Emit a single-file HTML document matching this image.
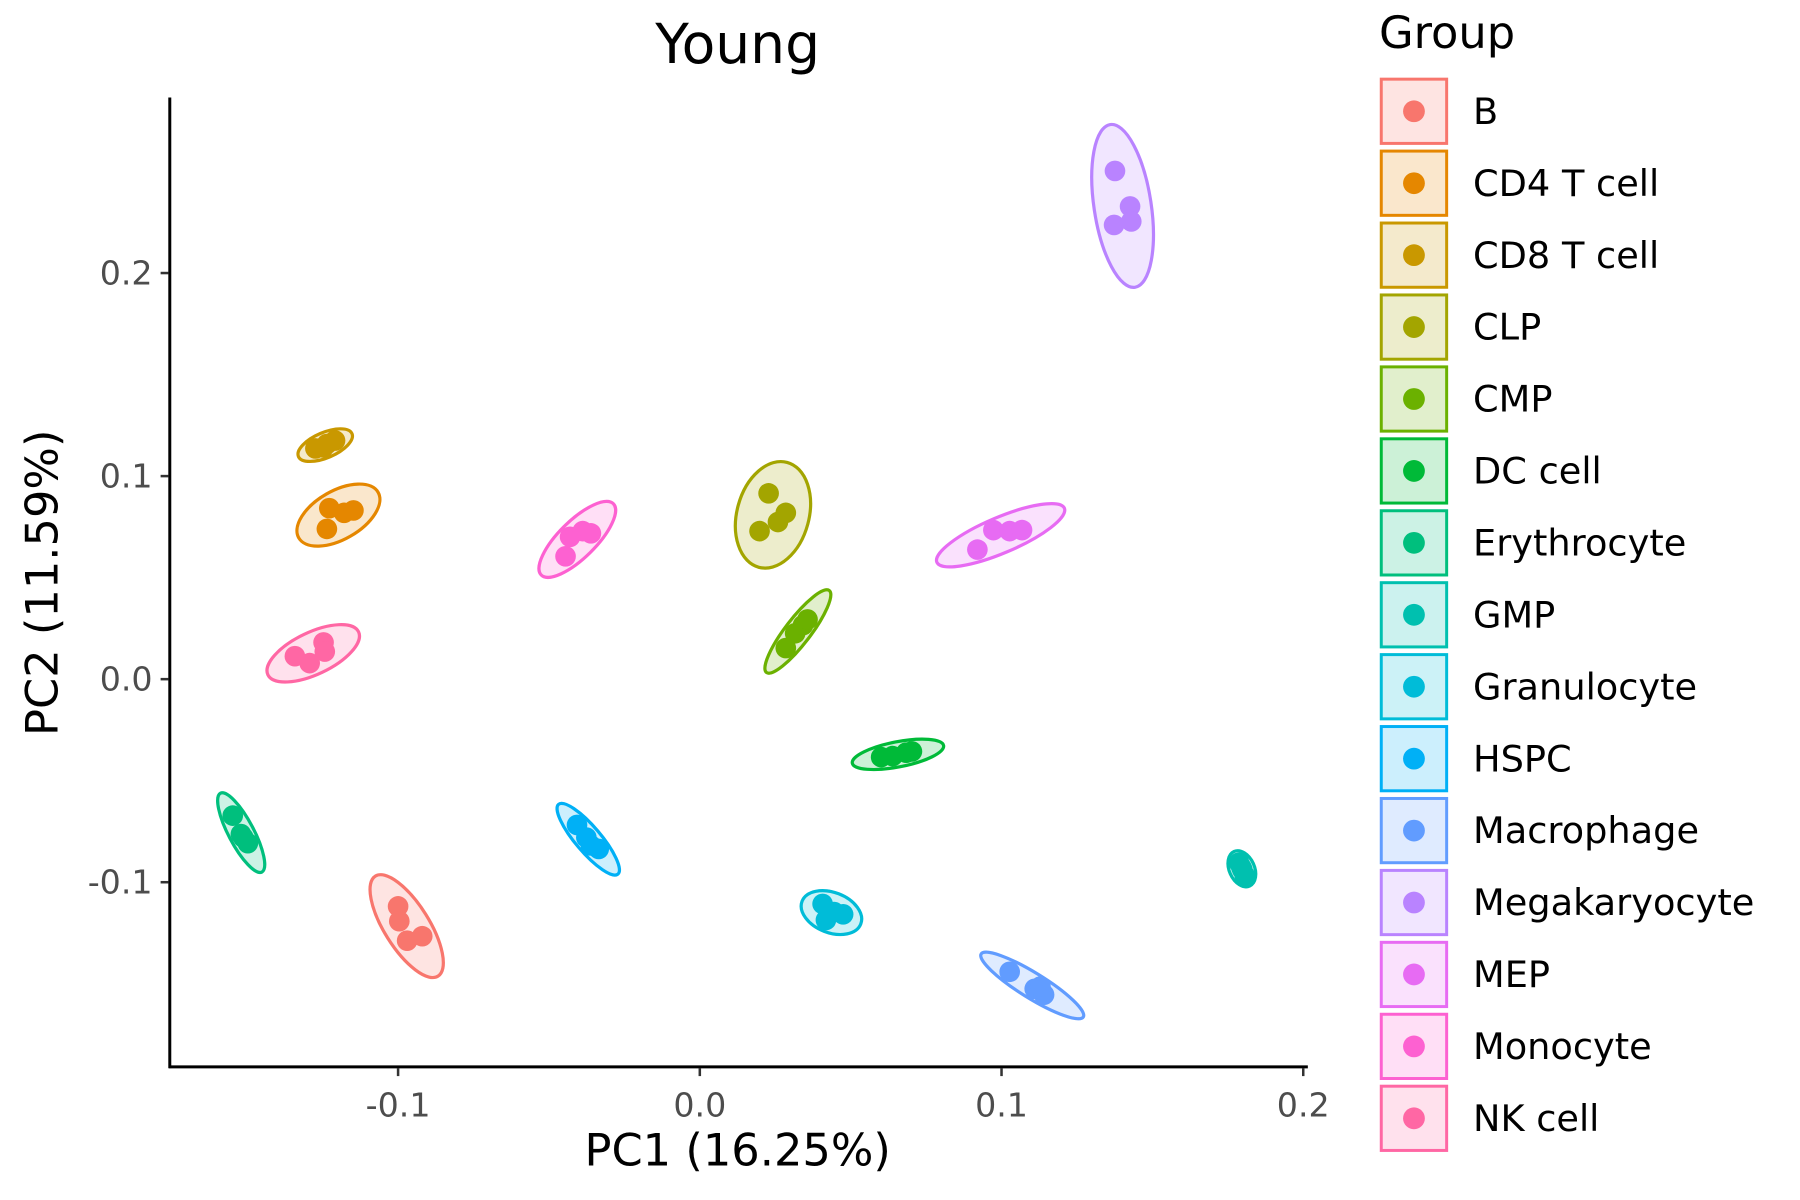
<!DOCTYPE html>
<html><head><meta charset="utf-8"><style>
html,body{margin:0;padding:0;background:#fff;}
svg{display:block;font-family:"DejaVu Sans","Liberation Sans",sans-serif;}
</style></head><body>
<svg id="chart" width="1800" height="1200" viewBox="0 0 1569 1046" xmlns="http://www.w3.org/2000/svg">
<text x="643" y="55" font-size="48" text-anchor="middle">Young</text>
<g id="plot"></g>
<g id="axes"></g>
<g id="legend"></g>
</svg>
<script>
const groups = ["B","CD4 T cell","CD8 T cell","CLP","CMP","DC cell","Erythrocyte","GMP","Granulocyte","HSPC","Macrophage","Megakaryocyte","MEP","Monocyte","NK cell"];
const colors = ["#F8766D","#E58700","#C99800","#A3A500","#6BB100","#00BA38","#00BF7D","#00C0AF","#00BCD8","#00B0F6","#619CFF","#B983FF","#E76BF3","#FD61D1","#FF67A4"];
const pc1 = [
 [-0.1000,-0.0996,-0.0970,-0.0920],
 [-0.1228,-0.1236,-0.1179,-0.1148],
 [-0.1274,-0.1236,-0.1209,-0.1247],
 [0.0228,0.0198,0.0259,0.0285],
 [0.0285,0.0316,0.0342,0.0357],
 [0.0601,0.0639,0.0684,0.0703],
 [-0.1548,-0.1521,-0.1498,-0.1513],
 [0.1787,0.1798,0.1806,0.1795],
 [0.0407,0.0418,0.0475,0.0445],
 [-0.0407,-0.0361,-0.0335,-0.0376],
 [0.1027,0.1110,0.1141,0.1129],
 [0.1376,0.1426,0.1430,0.1373],
 [0.0920,0.0973,0.1027,0.1068],
 [-0.0445,-0.0430,-0.0388,-0.0361],
 [-0.1342,-0.1293,-0.1247,-0.1243]
];
const pc2 = [
 [-0.1119,-0.1192,-0.1288,-0.1266],
 [0.0842,0.0740,0.0819,0.0831],
 [0.1136,0.1158,0.1175,0.1141],
 [0.0915,0.0729,0.0774,0.0819],
 [0.0153,0.0226,0.0266,0.0294],
 [-0.0384,-0.0379,-0.0362,-0.0356],
 [-0.0672,-0.0763,-0.0808,-0.0780],
 [-0.0904,-0.0938,-0.0966,-0.0927],
 [-0.1107,-0.1186,-0.1158,-0.1147],
 [-0.0718,-0.0819,-0.0836,-0.0780],
 [-0.1441,-0.1525,-0.1554,-0.1514],
 [0.2503,0.2328,0.2254,0.2237],
 [0.0638,0.0734,0.0729,0.0734],
 [0.0605,0.0701,0.0729,0.0718],
 [0.0113,0.0079,0.0181,0.0136]
];
const xTicks = [-0.1,0.0,0.1,0.2];
const xTickLabels = ["-0.1","0.0","0.1","0.2"];
const yTicks = [0.2,0.1,0.0,-0.1];
const yTickLabels = ["0.2","0.1","0.0","-0.1"];

const NS="http://www.w3.org/2000/svg";
const xS = v => 610 + 2630*v;
const yS = v => 592 - 1770*v;
function mk(tag, attrs, parent){const e=document.createElementNS(NS,tag);for(const k in attrs)e.setAttribute(k,attrs[k]);parent.appendChild(e);return e;}
const plot=document.getElementById('plot'), axes=document.getElementById('axes'), legend=document.getElementById('legend');

groups.forEach((g,i)=>{
  const px=pc1[i].map(xS), py=pc2[i].map(yS), n=px.length;
  const mx=px.reduce((a,b)=>a+b)/n, my=py.reduce((a,b)=>a+b)/n;
  let sxx=0,syy=0,sxy=0;
  for(let j=0;j<n;j++){const dx=px[j]-mx,dy=py[j]-my;sxx+=dx*dx;syy+=dy*dy;sxy+=dx*dy;}
  sxx/=(n-1);syy/=(n-1);sxy/=(n-1);
  const tr=(sxx+syy)/2, det=Math.sqrt(((sxx-syy)/2)**2+sxy*sxy);
  const l1=tr+det, l2=Math.max(tr-det,0);
  const ang=Math.atan2(l1-sxx, sxy||1e-9)*180/Math.PI;
  const k=3.3;
  const a=Math.max(k*Math.sqrt(l1),12), b=Math.max(k*Math.sqrt(l2),11);
  const el=mk('ellipse',{cx:mx,cy:my,rx:a,ry:b,transform:`rotate(${sxy===0?0:ang} ${mx} ${my})`,fill:colors[i],'fill-opacity':0.2,stroke:colors[i],'stroke-width':2.8},plot);
  
  
  for(let j=0;j<n;j++){
    const c=mk('circle',{cx:px[j],cy:py[j],r:9,fill:colors[i]},plot);
    
    
  }
});

mk('line',{x1:148,y1:85,x2:148,y2:931,stroke:'#000','stroke-width':2.6},axes);
mk('line',{x1:147,y1:930,x2:1140,y2:930,stroke:'#000','stroke-width':2.6},axes);
xTicks.forEach((t,i)=>{
  mk('line',{x1:xS(t),y1:931,x2:xS(t),y2:938,stroke:'#333','stroke-width':2.2},axes);
  const tx=mk('text',{x:xS(t),y:973,'font-size':29,fill:'#4d4d4d','text-anchor':'middle'},axes);
  tx.textContent=xTickLabels[i];
  
  
});
yTicks.forEach((t,i)=>{
  mk('line',{x1:140,y1:yS(t),x2:147,y2:yS(t),stroke:'#333','stroke-width':2.2},axes);
  const tx=mk('text',{x:133,y:yS(t)+10,'font-size':29,fill:'#4d4d4d','text-anchor':'end'},axes);
  tx.textContent=yTickLabels[i];
  
  
});
const xt=mk('text',{x:643,y:1016,'font-size':39,'text-anchor':'middle'},axes);
xt.textContent='PC1 (16.25%)';


const yt=mk('text',{x:0,y:0,'font-size':39,'text-anchor':'middle',transform:'translate(50,508) rotate(-90)'},axes);
yt.textContent='PC2 (11.59%)';



const lt=mk('text',{x:1202,y:42,'font-size':39},legend);
lt.textContent='Group';


groups.forEach((g,i)=>{
  const cy=97+62.7*i;
  const r=mk('rect',{x:1204,y:cy-28,width:57,height:56,fill:colors[i],'fill-opacity':0.2,stroke:colors[i],'stroke-width':2.6},legend);
  
  
  mk('circle',{cx:1232.5,cy:cy,r:9.5,fill:colors[i]},legend);
  const t=mk('text',{x:1284,y:cy+11,'font-size':32},legend);
  t.textContent=g;
  
  
});
</script>
</body></html>
